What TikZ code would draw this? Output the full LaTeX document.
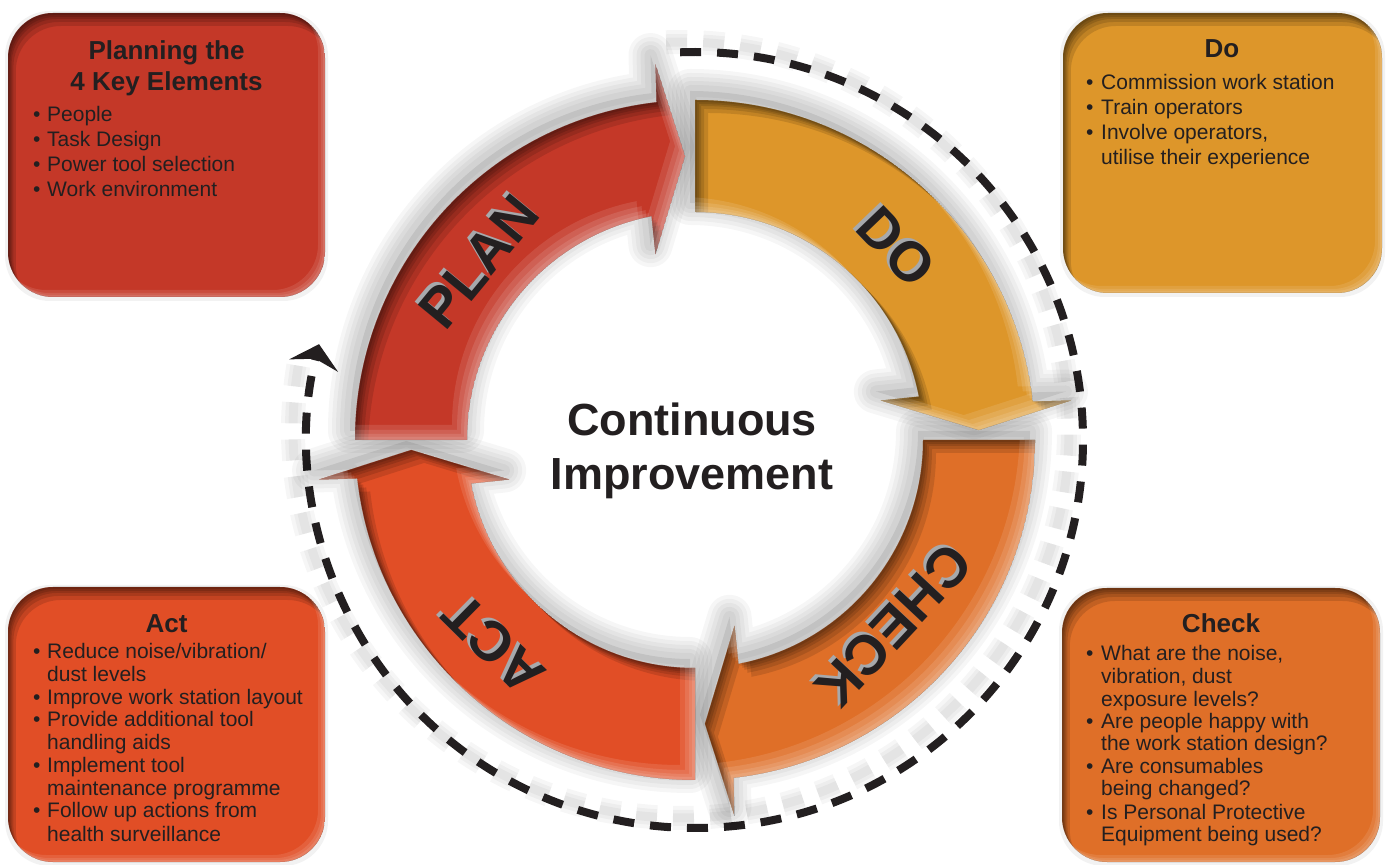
\documentclass[tikz,border=0pt]{standalone}
\usepackage{fontspec}
\setmainfont{Liberation Sans}
\usetikzlibrary{arrows.meta}
\definecolor{planred}{RGB}{196,56,40}
\definecolor{dogold}{RGB}{221,150,42}
\definecolor{checkor}{RGB}{223,111,40}
\definecolor{actred}{RGB}{225,78,38}
\definecolor{txtdark}{RGB}{35,31,32}
\definecolor{shadowgray}{RGB}{167,169,172}

% ring arrow outline: #1 start angle, #2 boundary angle, #3/#4 shift
\newcommand\pdcaShape[4]{([shift={(#3,#4)}]#1:340pt) arc[start angle=#1,end angle=#2+6.5,radius=340pt] -- ([shift={(#3,#4)}]{#2+6}:378pt) -- ([shift={(#3,#4)}]{#2+2}:284pt) -- ([shift={(#3,#4)}]{#2+12}:190pt) -- ([shift={(#3,#4)}]{#2+11}:228pt) arc[start angle=#2+11,end angle=#1,radius=228pt] -- cycle}

\newcommand\pdcaArrow[3]{%
  \begin{scope}
    \clip \pdcaShape{#1}{#2}{0pt}{0pt};
    \fill[#3] \pdcaShape{#1}{#2}{0pt}{0pt};
    \foreach \kk in {2,4,6,9,13} {\fill[black,opacity=.12,even odd rule] \pdcaShape{#1}{#2}{0pt}{0pt} \pdcaShape{#1}{#2}{\kk pt}{-\kk pt};}
    \foreach \kk in {3,6,10,15} {\fill[white,opacity=.11,even odd rule] \pdcaShape{#1}{#2}{0pt}{0pt} \pdcaShape{#1}{#2}{-\kk pt}{\kk pt};}
  \end{scope}}

\newcommand\pdcaBox[5]{%
  \fill[black,opacity=.05,rounded corners=45pt] (#1-3,#2-4) rectangle (#3+3,#4+2);
  \begin{scope}
    \clip[rounded corners=45pt] (#1,#2) rectangle (#3,#4);
    \fill[#5] (#1,#2) rectangle (#3,#4);
    \foreach \kk in {2,4,6,9,13} {\fill[black,opacity=.13,even odd rule,rounded corners=45pt] (#1,#2) rectangle (#3,#4) ([shift={(0.6*\kk pt,-\kk pt)}]#1,#2) rectangle ([shift={(0.6*\kk pt,-\kk pt)}]#3,#4);}
    \foreach \kk in {2,4,7} {\fill[white,opacity=.1,even odd rule,rounded corners=45pt] (#1,#2) rectangle (#3,#4) ([shift={(-\kk pt,\kk pt)}]#1,#2) rectangle ([shift={(-\kk pt,\kk pt)}]#3,#4);}
  \end{scope}}

\tikzset{
  btxt/.style={anchor=base west, inner sep=0pt, text=txtdark, font=\fontsize{21}{25}\selectfont},
  ttl/.style={anchor=base, inner sep=0pt, text=txtdark, font=\fontsize{26}{31}\selectfont\bfseries},
  ringtxt/.style={inner sep=0pt, text=txtdark, font=\fontsize{56}{60}\selectfont\bfseries},
  ringshd/.style={ringtxt, text=shadowgray},
  centertxt/.style={anchor=base, inner sep=0pt, text=txtdark, font=\fontsize{45}{54}\selectfont\bfseries},
  dashcircle/.style={draw=txtdark, line width=8pt, dash pattern=on 21pt off 16pt},
}

\begin{document}
\begin{tikzpicture}[x=1pt,y=1pt]
\useasboundingbox (0,0) rectangle (1388,864);
\fill[white] (0,0) rectangle (1388,864);

% corner boxes
\pdcaBox{8}{567}{325}{851}{planred}
\pdcaBox{1063}{571}{1382}{851}{dogold}
\pdcaBox{8}{2}{325}{277}{actred}
\pdcaBox{1062}{2}{1380}{276}{checkor}

\begin{scope}[shift={(695,424)}]
  % soft halo of the dashed circle
  \foreach \ww in {24,16,9} {\draw[black,opacity=.035,line width=\ww pt,dash pattern=on 21pt off 16pt] ([shift={(-14pt,10pt)}]92.2:388pt) arc[start angle=92.2,end angle=-190,radius=388pt];}
  % dashed cycle arrow
  \draw[dashcircle, -{Stealth[length=22pt,width=50pt,inset=7pt]}] (92.2:388pt) coordinate (dstart) arc[start angle=92.2,end angle=-194.3,radius=388pt] coordinate (dend);

  % gray halo under the ring
  \foreach \pa/\pb in {180/90, 90/0, 0/-90, -90/-180} {
    \fill[black,opacity=.08] \pdcaShape{\pa}{\pb}{-5pt}{9pt};
    \foreach \ww in {44,36,28,20,12} {\draw[black,opacity=.035,line width=\ww pt,line join=round] \pdcaShape{\pa}{\pb}{-5pt}{9pt};}
  }

  % the four arrows
  \pdcaArrow{180}{90}{planred}
  \pdcaArrow{90}{0}{dogold}
  \pdcaArrow{0}{-90}{checkor}
  \pdcaArrow{-90}{-180}{actred}

  % ring labels
  \node[ringshd, rotate=50.5] (planS) at ([shift={(-3pt,3pt)}]140.5:280pt) {PLAN};
  \node[ringtxt, rotate=50.5] (plan) at (140.5:280pt) {PLAN};
  \node[ringshd, rotate=-46.2] (doS) at ([shift={(-3pt,3pt)}]43.8:279pt) {DO};
  \node[ringtxt, rotate=-46.2] (do) at (43.8:279pt) {DO};
  \node[ringshd, rotate=-133.1] (checkS) at ([shift={(-3pt,3pt)}]-43.1:272pt) {CHECK};
  \node[ringtxt, rotate=-133.1] (check) at (-43.1:272pt) {CHECK};
  \node[ringshd, rotate=135.4] (actS) at ([shift={(-3pt,3pt)}]225.4:287pt) {ACT};
  \node[ringtxt, rotate=135.4] (act) at (225.4:287pt) {ACT};
\end{scope}

% centre text
\node[centertxt] (cont) at (692,428) {Continuous};
\node[centertxt] (impr) at (692,374) {Improvement};

% Planning box
\node[ttl] (plt1) at (166.5,804) {Planning the};
\node[ttl] (plt2) at (166.5,773) {4 Key Elements};
\foreach [count=\i] \yy/\tt in {122/People, 147/Task Design, 172/Power tool selection, 197/Work environment} {
  \node[btxt] (plb\i) at (33,864-\yy) {•};
  \node[btxt] (pll\i) at (47,864-\yy) {\tt};
}

% Do box
\node[ttl] (dot1) at (1222,806) {Do};
\foreach [count=\i] \yy in {90,115,140} {\node[btxt] (dob\i) at (1086,864-\yy) {•};}
\foreach [count=\i] \yy/\tt in {90/Commission work station, 115/Train operators, 140/{Involve operators,}, 165/utilise their experience} {
  \node[btxt] (dol\i) at (1101,864-\yy) {\tt};
}

% Act box
\node[ttl] (act1) at (166.5,231) {Act};
\foreach [count=\i] \yy in {659,705,727,773,818} {\node[btxt] (acb\i) at (33,864-\yy) {•};}
\foreach [count=\i] \yy/\tt in {659/{Reduce noise/vibration/}, 682/dust levels, 705/Improve work station layout, 727/Provide additional tool, 750/handling aids, 773/Implement tool, 796/maintenance programme, 818/Follow up actions from, 841/health surveillance} {
  \node[btxt] (acl\i) at (47,864-\yy) {\tt};
}

% Check box
\node[ttl] (cht1) at (1221,231) {Check};
\foreach [count=\i] \yy in {661,729,774,819} {\node[btxt] (chb\i) at (1086,864-\yy) {•};}
\foreach [count=\i] \yy/\tt in {661/{What are the noise,}, 684/{vibration, dust}, 707/exposure levels?, 729/Are people happy with, 751/the work station design?, 774/Are consumables, 796/being changed?, 819/Is Personal Protective, 841/Equipment being used?} {
  \node[btxt] (chl\i) at (1101,864-\yy) {\tt};
}
\end{tikzpicture}
\end{document}
